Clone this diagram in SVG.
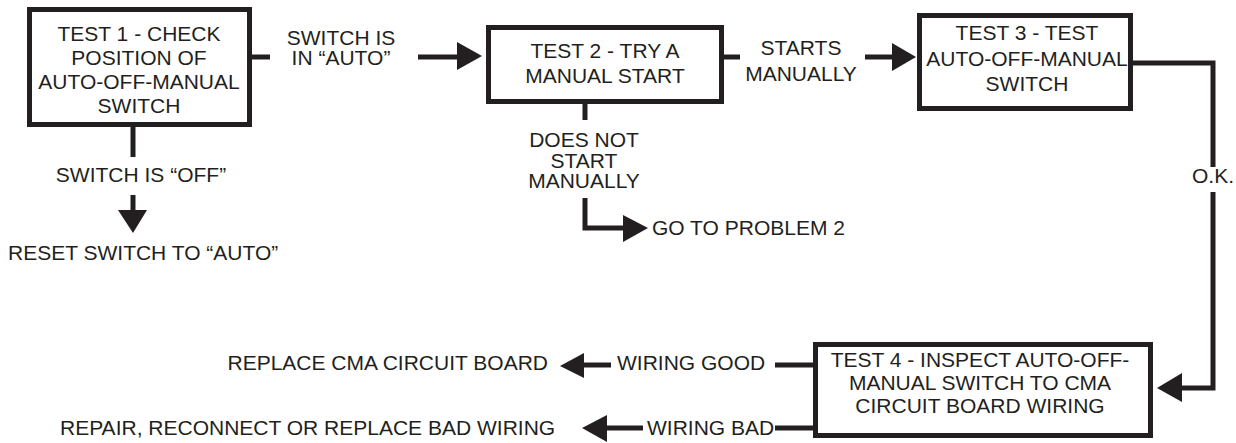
<svg xmlns="http://www.w3.org/2000/svg" width="1236" height="443" viewBox="0 0 1236 443">
<style>
.box{fill:#fff;stroke:#231f20;stroke-width:5}
.ln{fill:none;stroke:#231f20;stroke-width:5}
.hd{fill:#231f20;stroke:none}
text{font-family:"Liberation Sans",Arial,sans-serif;font-size:21px;fill:#231f20}
.m{text-anchor:middle}
.e{text-anchor:end}
</style>
<rect width="1236" height="443" fill="#fff"/>
<g id="connectors">
<path class="ln" d="M252 57H270"/>
<path class="ln" d="M418 57H459"/>
<polygon class="hd" points="457,42 482,56 457,70"/>
<path class="ln" d="M724 57H740"/>
<path class="ln" d="M865 57H894"/>
<polygon class="hd" points="892,43 916,57 892,71"/>
<path class="ln" d="M1133 63H1213V167"/>
<path class="ln" d="M1213 192V388H1180"/>
<polygon class="hd" points="1182,373 1157,388 1182,402"/>
<path class="ln" d="M133 127V157"/>
<path class="ln" d="M133 195V212"/>
<polygon class="hd" points="118,210 133,233 147,210"/>
<path class="ln" d="M585 104V120"/>
<path class="ln" d="M585 198V228H625"/>
<polygon class="hd" points="623,215 648,228 623,242"/>
<path class="ln" d="M813 365H775"/>
<path class="ln" d="M611 365H581"/>
<polygon class="hd" points="584,353 560,366 584,378"/>
<path class="ln" d="M813 428H775"/>
<path class="ln" d="M643 428H605"/>
<polygon class="hd" points="607,415 582,428 607,442"/>
</g>
<g id="labels">
<text class="m" x="341" y="45">SWITCH IS</text>
<text class="m" x="341" y="65">IN “AUTO”</text>
<text class="m" x="801" y="55">STARTS</text>
<text class="m" x="801" y="81">MANUALLY</text>
<text class="m" x="584" y="147">DOES NOT</text>
<text class="m" x="584" y="168">START</text>
<text class="m" x="584" y="188">MANUALLY</text>
<text x="652" y="235">GO TO PROBLEM 2</text>
<text class="m" x="141" y="182">SWITCH IS “OFF”</text>
<text x="8" y="260">RESET SWITCH TO “AUTO”</text>
<text class="m" x="1213" y="183">O.K.</text>
<text class="e" x="548" y="370">REPLACE CMA CIRCUIT BOARD</text>
<text x="617" y="370">WIRING GOOD</text>
<text x="60" y="435">REPAIR, RECONNECT OR REPLACE BAD WIRING</text>
<text x="647" y="435">WIRING BAD</text>
</g>
<g id="test1">
<rect class="box" x="29.5" y="9.5" width="220" height="115"/>
<text class="m" x="139" y="41">TEST 1 - CHECK</text>
<text class="m" x="139" y="65">POSITION OF</text>
<text class="m" x="139" y="89">AUTO-OFF-MANUAL</text>
<text class="m" x="139" y="113">SWITCH</text>
</g>
<g id="test2">
<rect class="box" x="488.5" y="27.5" width="233" height="74"/>
<text class="m" x="605" y="58">TEST 2 - TRY A</text>
<text class="m" x="605" y="83">MANUAL START</text>
</g>
<g id="test3">
<rect class="box" x="919.5" y="15.5" width="211" height="93"/>
<text class="m" x="1027" y="40">TEST 3 - TEST</text>
<text class="m" x="1027" y="66">AUTO-OFF-MANUAL</text>
<text class="m" x="1027" y="91">SWITCH</text>
</g>
<g id="test4">
<rect class="box" x="815.5" y="344.5" width="335" height="91"/>
<text class="m" x="980" y="367">TEST 4 - INSPECT AUTO-OFF-</text>
<text class="m" x="980" y="390">MANUAL SWITCH TO CMA</text>
<text class="m" x="980" y="413">CIRCUIT BOARD WIRING</text>
</g>
</svg>
